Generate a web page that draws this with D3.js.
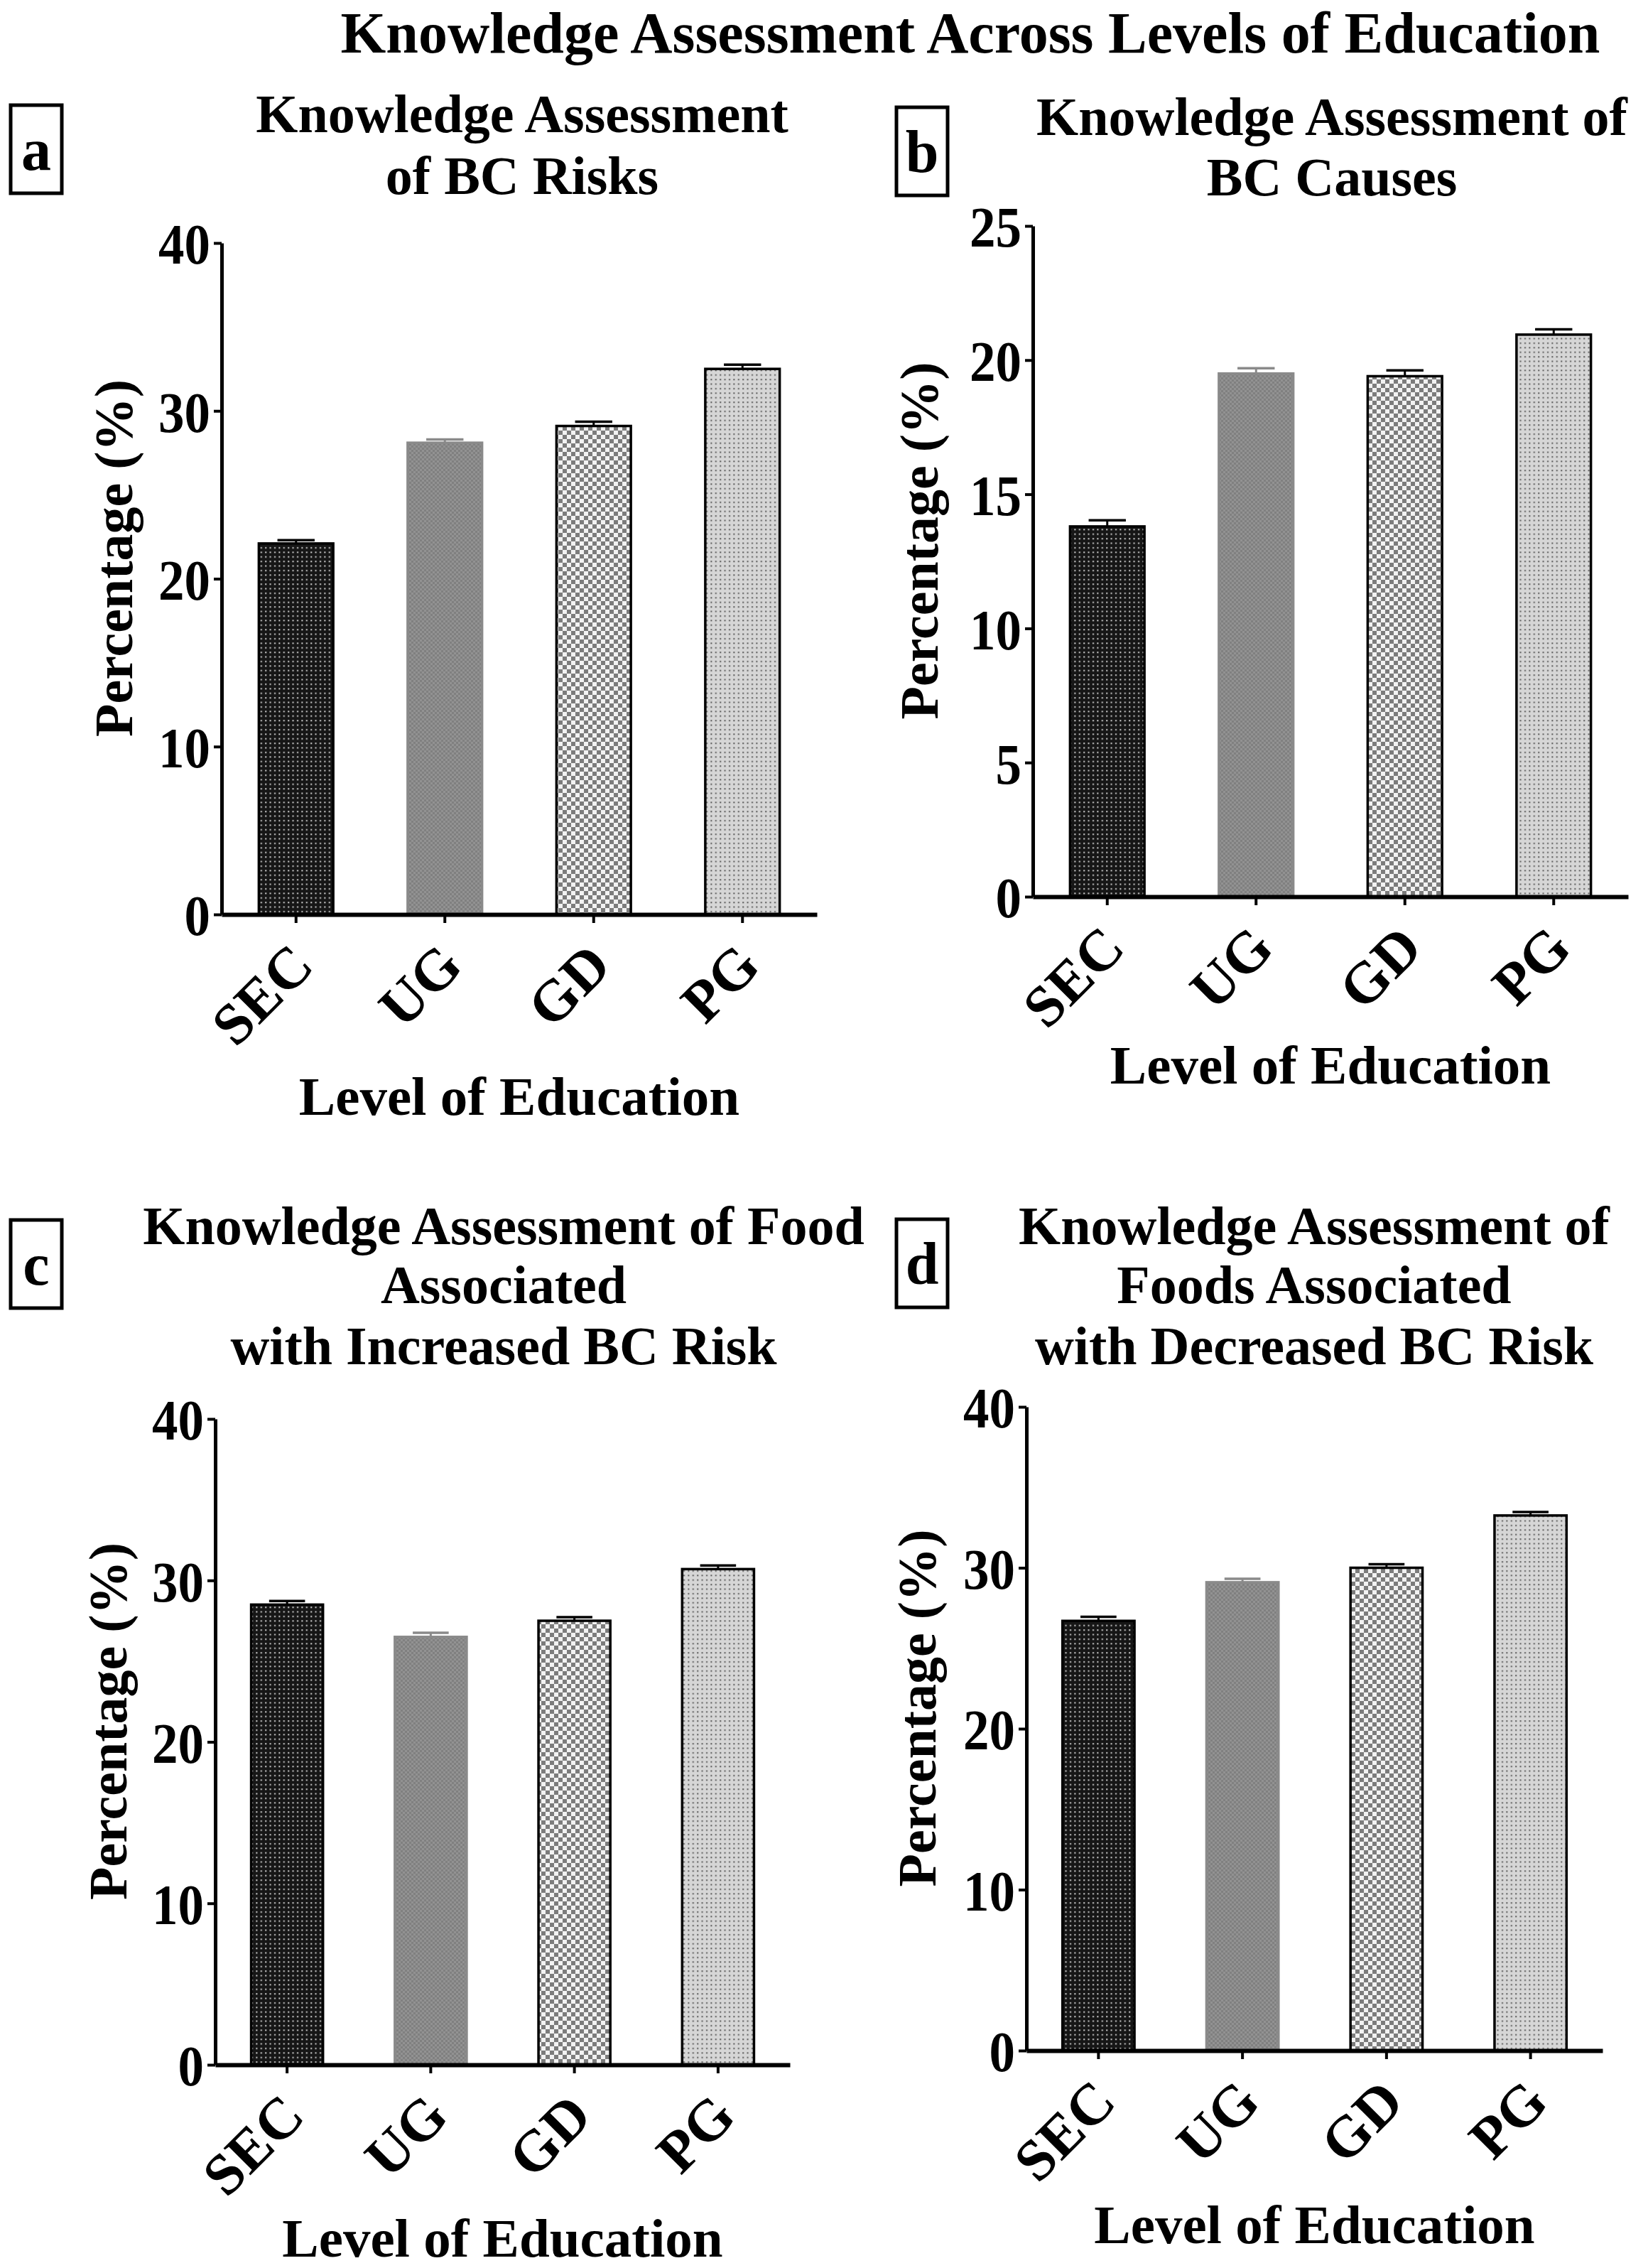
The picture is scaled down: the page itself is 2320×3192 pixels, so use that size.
<!DOCTYPE html>
<html>
<head>
<meta charset="utf-8">
<script src="https://cdn.jsdelivr.net/npm/d3@7"></script>
<style>
  body { margin: 0; background: #fff; }
  text { font-family: "Liberation Serif", "Times New Roman", serif; font-weight: bold; fill: #000; }
</style>
</head>
<body>
<svg id="chart"></svg>
<script>
const width = 2320
const height = 3192

// data
const categories = ["SEC", "UG", "GD", "PG"]

const risksValues = [22.1, 28.1, 29.1, 32.5]
const risksErrors = [0.2, 0.2, 0.25, 0.25]
const risksTicks = [0, 10, 20, 30, 40]

const causesValues = [13.8, 19.5, 19.4, 20.95]
const causesErrors = [0.23, 0.2, 0.22, 0.2]
const causesTicks = [0, 5, 10, 15, 20, 25]

const increasedValues = [28.5, 26.5, 27.5, 30.7]
const increasedErrors = [0.22, 0.25, 0.22, 0.22]
const increasedTicks = [0, 10, 20, 30, 40]

const decreasedValues = [26.7, 29.1, 30.0, 33.25]
const decreasedErrors = [0.25, 0.22, 0.22, 0.22]
const decreasedTicks = [0, 10, 20, 30, 40]

const mainTitle = "Knowledge Assessment Across Levels of Education"
const xLabel = "Level of Education"
const yLabel = "Percentage (%)"

const svg = d3.select("#chart")
            .attr("width", width)
            .attr("height", height)

svg.append("rect").attr("width", width).attr("height", height).attr("fill", "#fff")

const defs = svg.append("defs")

// fill patterns, one per level of education
function dotPattern(id, bg, dot, step) {
    const p = defs.append("pattern").attr("id", id)
        .attr("patternUnits", "userSpaceOnUse")
        .attr("width", step).attr("height", step)
    p.append("rect").attr("width", step).attr("height", step).attr("fill", bg)
    p.append("rect").attr("x", 2).attr("y", 2).attr("width", 2).attr("height", 2).attr("fill", dot)
}
function checkPattern(id, light, dark, cell) {
    const p = defs.append("pattern").attr("id", id)
        .attr("patternUnits", "userSpaceOnUse")
        .attr("width", cell * 2).attr("height", cell * 2)
    p.append("rect").attr("width", cell * 2).attr("height", cell * 2).attr("fill", light)
    p.append("rect").attr("width", cell).attr("height", cell).attr("fill", dark)
    p.append("rect").attr("x", cell).attr("y", cell).attr("width", cell).attr("height", cell).attr("fill", dark)
}
dotPattern("pat-sec", "#161616", "#d0d0d0", 6.4)
checkPattern("pat-ug", "#929292", "#808080", 3)
checkPattern("pat-gd", "#f2f2f2", "#7c7c7c", 6)
dotPattern("pat-pg", "#d6d6d6", "#5a5a5a", 6.4)

const barFill = ["url(#pat-sec)", "url(#pat-ug)", "url(#pat-gd)", "url(#pat-pg)"]
const barStroke = ["#000", "#8a8a8a", "#000", "#000"]

const panels = [
    { letter: "a", values: risksValues, errors: risksErrors, ticks: risksTicks,
      title: ["Knowledge Assessment", "of BC Risks"], titleX: 735, titleY: [186, 273],
      box: [15, 148], x0: 312, x1: 1150, yBottom: 1287, yTop: 342,
      yLabelX: 186, xLabelY: 1569 },
    { letter: "b", values: causesValues, errors: causesErrors, ticks: causesTicks,
      title: ["Knowledge Assessment of", "BC Causes"], titleX: 1875, titleY: [190, 275],
      box: [1262, 151], x0: 1454, x1: 2292, yBottom: 1262, yTop: 318,
      yLabelX: 1320, xLabelY: 1525 },
    { letter: "c", values: increasedValues, errors: increasedErrors, ticks: increasedTicks,
      title: ["Knowledge Assessment of Food", "Associated", "with Increased BC Risk"], titleX: 709, titleY: [1751, 1834, 1920],
      box: [15, 1717], x0: 303, x1: 1112, yBottom: 2906, yTop: 1997,
      yLabelX: 178, xLabelY: 3176 },
    { letter: "d", values: decreasedValues, errors: decreasedErrors, ticks: decreasedTicks,
      title: ["Knowledge Assessment of", "Foods Associated", "with Decreased BC Risk"], titleX: 1850, titleY: [1751, 1834, 1920],
      box: [1262, 1716], x0: 1445, x1: 2256, yBottom: 2886, yTop: 1980,
      yLabelX: 1317, xLabelY: 3157 }
]

svg.append("text")
   .attr("x", 1366).attr("y", 74)
   .attr("text-anchor", "middle")
   .attr("font-size", 82)
   .text(mainTitle)

function drawPanel(p) {
    const g = svg.append("g")

    const x = d3.scaleBand()
                .domain(categories)
                .range([p.x0, p.x1])
                .paddingInner(0.5)
                .paddingOuter(0.25)
    const y = d3.scaleLinear()
                .domain([0, d3.max(p.ticks)])
                .range([p.yBottom, p.yTop])

    // panel letter in its box
    g.append("rect")
     .attr("x", p.box[0]).attr("y", p.box[1])
     .attr("width", 72).attr("height", 124)
     .attr("fill", "none").attr("stroke", "#000").attr("stroke-width", 5)
    g.append("text")
     .attr("x", p.box[0] + 36).attr("y", p.box[1] + 91)
     .attr("text-anchor", "middle").attr("font-size", 84)
     .text(p.letter)

    g.selectAll(".title")
     .data(p.title)
     .enter().append("text")
     .attr("x", p.titleX)
     .attr("y", (d, i) => p.titleY[i])
     .attr("text-anchor", "middle")
     .attr("font-size", 76)
     .text(d => d)

    // bars
    g.selectAll(".bar")
     .data(p.values)
     .enter().append("rect")
     .attr("x", (d, i) => x(categories[i]))
     .attr("y", d => y(d))
     .attr("width", x.bandwidth())
     .attr("height", d => y(0) - y(d))
     .attr("fill", (d, i) => barFill[i])
     .attr("stroke", (d, i) => barStroke[i])
     .attr("stroke-width", 3.5)

    // error bars (upper only)
    const cap = x.bandwidth() / 4
    p.values.forEach((v, i) => {
        const cx = x(categories[i]) + x.bandwidth() / 2
        const top = y(v + p.errors[i])
        g.append("line")
         .attr("x1", cx).attr("x2", cx)
         .attr("y1", y(v)).attr("y2", top)
         .attr("stroke", barStroke[i]).attr("stroke-width", 3)
        g.append("line")
         .attr("x1", cx - cap).attr("x2", cx + cap)
         .attr("y1", top).attr("y2", top)
         .attr("stroke", barStroke[i]).attr("stroke-width", 3.5)
    })

    // axes
    const yAxis = g.append("g")
                   .attr("transform", `translate(${p.x0},0)`)
                   .call(d3.axisLeft(y).tickValues(p.ticks).tickSize(11).tickSizeOuter(0).tickPadding(5))
    yAxis.selectAll("text")
         .attr("font-size", 80).attr("font-family", null).attr("fill", "#000")
         .attr("dy", "0.36em")
         .attr("textLength", d => String(d).length * 36.5)
         .attr("lengthAdjust", "spacingAndGlyphs")
    yAxis.selectAll("line").attr("stroke-width", 4)
    yAxis.select(".domain").attr("stroke-width", 5)

    const xAxis = g.append("g")
                   .attr("transform", `translate(0,${p.yBottom})`)
                   .call(d3.axisBottom(x).tickSize(12).tickSizeOuter(0))
    xAxis.selectAll("line").attr("stroke-width", 4)
    xAxis.select(".domain").attr("stroke-width", 6)
    xAxis.selectAll("text")
         .attr("font-size", 82).attr("font-family", null).attr("fill", "#000")
         .attr("x", 0).attr("y", 0).attr("dy", 0)
         .attr("text-anchor", "end")
         .attr("transform", "translate(28,76) rotate(-45)")

    g.append("text")
     .attr("x", (p.x0 + p.x1) / 2)
     .attr("y", p.xLabelY)
     .attr("text-anchor", "middle")
     .attr("font-size", 77)
     .text(xLabel)

    g.append("text")
     .attr("transform", `translate(${p.yLabelX},${(p.yBottom + p.yTop) / 2 - 29}) rotate(-90)`)
     .attr("text-anchor", "middle")
     .attr("font-size", 76)
     .text(yLabel)
}

panels.forEach(drawPanel)
</script>
</body>
</html>
